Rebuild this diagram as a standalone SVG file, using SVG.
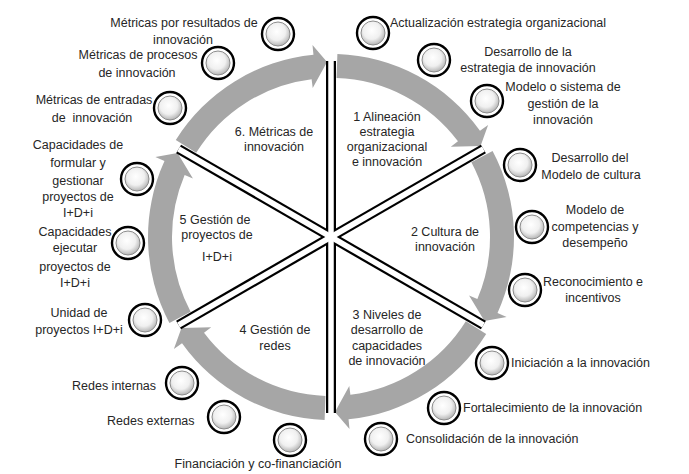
<svg xmlns="http://www.w3.org/2000/svg" xmlns:xlink="http://www.w3.org/1999/xlink" width="689" height="474" viewBox="0 0 689 474">
<style>
text{font-family:"Liberation Sans","Noto Sans",Arial,sans-serif;font-size:12.5px;fill:#262626}
.c{text-anchor:middle}
.ring{fill:#fff;stroke:#000;stroke-width:2.4}
.ball{fill:url(#sph);stroke:#8c8c8c;stroke-width:1}
.arr{fill:#a6a6a6}
.lb{stroke:#000;stroke-width:10;stroke-linecap:butt}
.lw{stroke:#fff;stroke-width:5.5;stroke-linecap:butt}
</style>
<defs>
<radialGradient id="sph" cx="0.45" cy="0.4" r="0.6">
<stop offset="0" stop-color="#ffffff"/>
<stop offset="0.6" stop-color="#f0f0f0"/>
<stop offset="1" stop-color="#b5b5b5"/>
</radialGradient>
<path id="arrow" class="arr" d="M337.39,54.11 A183,183 0 0,1 479.98,130.73 L488.12,124.92 L480.54,146.09 L450.79,146.73 L457.98,141.31 A159,159 0 0,0 336.55,78.10 Z"/>
<g id="bullet"><circle class="ring" r="16"/><circle class="ball" r="12"/></g>
</defs>
<rect width="689" height="474" fill="#fff"/>
<g id="connectors">
<use xlink:href="#arrow"/>
<use xlink:href="#arrow" transform="rotate(60 331 237)"/>
<use xlink:href="#arrow" transform="rotate(120 331 237)"/>
<use xlink:href="#arrow" transform="rotate(180 331 237)"/>
<use xlink:href="#arrow" transform="rotate(240 331 237)"/>
<use xlink:href="#arrow" transform="rotate(300 331 237)"/>
</g>
<g id="dividers">
<g class="lb">
<line x1="331" y1="237" x2="331" y2="61"/>
<line x1="331" y1="237" x2="331" y2="413"/>
<line x1="331" y1="237" x2="483.4" y2="149"/>
<line x1="331" y1="237" x2="483.4" y2="325"/>
<line x1="331" y1="237" x2="178.6" y2="149"/>
<line x1="331" y1="237" x2="178.6" y2="325"/>
</g>
<g class="lw">
<line x1="331" y1="237" x2="331" y2="61"/>
<line x1="331" y1="237" x2="331" y2="413"/>
<line x1="331" y1="237" x2="483.4" y2="149"/>
<line x1="331" y1="237" x2="483.4" y2="325"/>
<line x1="331" y1="237" x2="178.6" y2="149"/>
<line x1="331" y1="237" x2="178.6" y2="325"/>
</g>
</g>
<g id="sector1"><text class="c" x="387" y="121">1 Alineación</text><text class="c" x="387" y="136">estrategia</text><text class="c" x="387" y="151">organizacional</text><text class="c" x="387" y="166">e innovación</text></g>
<g id="sector2"><text class="c" x="445" y="236">2 Cultura de</text><text class="c" x="445" y="251">innovación</text></g>
<g id="sector3"><text class="c" x="387" y="319">3 Niveles de</text><text class="c" x="387" y="334">desarrollo de</text><text class="c" x="387" y="350">capacidades</text><text class="c" x="387" y="365">de innovación</text></g>
<g id="sector4"><text class="c" x="275" y="334">4 Gestión de</text><text class="c" x="275" y="350">redes</text></g>
<g id="sector5"><text class="c" x="215" y="224">5 Gestión de</text><text class="c" x="217" y="239">proyectos de</text><text class="c" x="217" y="261">I+D+i</text></g>
<g id="sector6"><text class="c" x="274" y="136">6. Métricas de</text><text class="c" x="274" y="151">innovación</text></g>
<g id="n-actualizacion"><use xlink:href="#bullet" x="373" y="33"/><text x="390" y="27">Actualización estrategia organizacional</text></g>
<g id="n-desarrollo-estrategia"><use xlink:href="#bullet" x="434" y="60"/><text class="c" x="528" y="56">Desarrollo de la</text><text class="c" x="528" y="72">estrategia de innovación</text></g>
<g id="n-modelo-gestion"><use xlink:href="#bullet" x="487" y="101"/><text class="c" x="563" y="91">Modelo o sistema de</text><text class="c" x="563" y="108">gestión de la</text><text class="c" x="563" y="124">innovación</text></g>
<g id="n-desarrollo-cultura"><use xlink:href="#bullet" x="520" y="165"/><text class="c" x="590" y="162">Desarrollo del</text><text class="c" x="591" y="179">Modelo de cultura</text></g>
<g id="n-competencias"><use xlink:href="#bullet" x="532" y="227"/><text class="c" x="595" y="214">Modelo de</text><text class="c" x="595" y="231">competencias y</text><text class="c" x="595" y="247">desempeño</text></g>
<g id="n-reconocimiento"><use xlink:href="#bullet" x="525" y="290"/><text class="c" x="593" y="286">Reconocimiento e</text><text class="c" x="593" y="302">incentivos</text></g>
<g id="n-iniciacion"><use xlink:href="#bullet" x="492" y="363"/><text x="511" y="367">Iniciación a la innovación</text></g>
<g id="n-fortalecimiento"><use xlink:href="#bullet" x="444" y="408"/><text x="463" y="412">Fortalecimiento de la innovación</text></g>
<g id="n-consolidacion"><use xlink:href="#bullet" x="381" y="439"/><text x="406" y="443">Consolidación de la innovación</text></g>
<g id="n-financiacion"><use xlink:href="#bullet" x="290" y="440"/><text class="c" x="258" y="468">Financiación y co-financiación</text></g>
<g id="n-redes-externas"><use xlink:href="#bullet" x="224" y="417"/><text x="107" y="425">Redes externas</text></g>
<g id="n-redes-internas"><use xlink:href="#bullet" x="182" y="383"/><text x="72" y="390">Redes internas</text></g>
<g id="n-unidad"><use xlink:href="#bullet" x="145" y="320"/><text class="c" x="79" y="317">Unidad de</text><text class="c" x="79" y="334">proyectos I+D+i</text></g>
<g id="n-cap-ejecutar"><use xlink:href="#bullet" x="128" y="243"/><text class="c" x="75" y="236">Capacidades</text><text class="c" x="75" y="252">ejecutar</text><text class="c" x="75" y="271">proyectos de</text><text class="c" x="75" y="287">I+D+i</text></g>
<g id="n-cap-formular"><use xlink:href="#bullet" x="137" y="179"/><text class="c" x="78" y="149">Capacidades de</text><text class="c" x="78" y="167">formular y</text><text class="c" x="78" y="185">gestionar</text><text class="c" x="78" y="201">proyectos de</text><text class="c" x="78" y="217">I+D+i</text></g>
<g id="n-metricas-entradas"><use xlink:href="#bullet" x="170" y="108"/><text class="c" x="94" y="104">Métricas de entradas</text><text class="c" x="92" y="122" xml:space="preserve">de  innovación</text></g>
<g id="n-metricas-procesos"><use xlink:href="#bullet" x="218" y="63"/><text class="c" x="138" y="59">Métricas de procesos</text><text class="c" x="137" y="77">de innovación</text></g>
<g id="n-metricas-resultados"><use xlink:href="#bullet" x="278" y="34"/><text class="c" x="184" y="27">Métricas por resultados de</text><text class="c" x="183" y="44">innovación</text></g>
</svg>
